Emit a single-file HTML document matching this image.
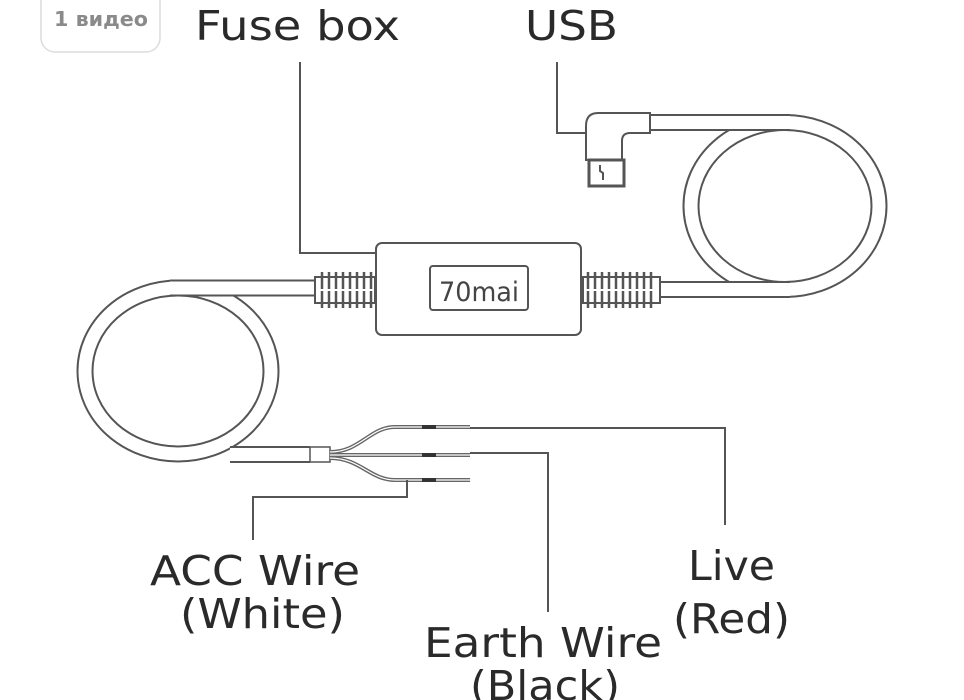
<!DOCTYPE html>
<html><head><meta charset="utf-8"><style>
html,body{margin:0;padding:0;background:#fff;}
svg{display:block}
text{font-family:"DejaVu Sans","Liberation Sans",sans-serif;fill:#2a2a2a}
</style></head><body>
<svg width="964" height="700" viewBox="0 0 964 700" xmlns="http://www.w3.org/2000/svg">
<rect x="41" y="-14" width="119" height="66" rx="14" fill="#fff" stroke="#dcdcdc" stroke-width="1.5"/>
<text x="54" y="26" font-size="20" font-weight="bold" style="fill:#8a8a8a" textLength="94" lengthAdjust="spacingAndGlyphs">1 видео</text>

<text x="195" y="40" font-size="41" textLength="205" lengthAdjust="spacingAndGlyphs">Fuse box</text>
<text x="525" y="40" font-size="41" textLength="93" lengthAdjust="spacingAndGlyphs">USB</text>

<g fill="none" stroke="#555" stroke-width="2">
<polyline points="300,62 300,253 376,253"/>
<polyline points="557,62 557,133 586,133"/>
</g>

<g fill="none">
<ellipse cx="178" cy="371" rx="93" ry="83" stroke="#555" stroke-width="17"/>
<ellipse cx="178" cy="371" rx="93" ry="83" stroke="#fff" stroke-width="13"/>
<path d="M170,288 H318" stroke="#555" stroke-width="17"/>
<path d="M170,288 H318" stroke="#fff" stroke-width="13"/>
<path d="M230,454.5 H310" stroke="#555" stroke-width="17"/>
<path d="M230,454.5 H310" stroke="#fff" stroke-width="13"/>
</g>
<g fill="none">
<ellipse cx="785" cy="206" rx="94" ry="83.5" stroke="#555" stroke-width="17"/>
<ellipse cx="785" cy="206" rx="94" ry="83.5" stroke="#fff" stroke-width="13"/>
<path d="M645,122.5 H790" stroke="#555" stroke-width="17"/>
<path d="M645,122.5 H790" stroke="#fff" stroke-width="13"/>
<path d="M655,289.5 H790" stroke="#555" stroke-width="17"/>
<path d="M655,289.5 H790" stroke="#fff" stroke-width="13"/>
</g>

<g stroke="#555" stroke-width="2" fill="#fff">
<rect x="315" y="277" width="60" height="26"/>
<rect x="583" y="277" width="77" height="26"/>
</g>
<g stroke="#555" stroke-width="2.5">
<path d="M322,272V308M329,272V308M336,272V308M343,272V308M350,272V308M357,272V308M364,272V308M371,272V308"/>
<path d="M588,272V308M595,272V308M602,272V308M609,272V308M616,272V308M623,272V308M630,272V308M637,272V308M644,272V308M651,272V308"/>
</g>
<g stroke="#fff" stroke-width="2"><path d="M316,290H374M584,290H659"/></g>

<rect x="376" y="243" width="205" height="92" rx="6" fill="#fff" stroke="#555" stroke-width="2"/>
<rect x="430" y="266" width="98" height="44" rx="3" fill="#fff" stroke="#555" stroke-width="2"/>
<text x="439" y="301" font-size="27" style="fill:#444" textLength="80" lengthAdjust="spacingAndGlyphs">70mai</text>

<path d="M586,160 V126 Q586,113 598,113 H650 V133 H630 Q622,133 622,141 V160 Z" fill="#fff" stroke="#555" stroke-width="2"/>
<rect x="589" y="160" width="35" height="26" fill="#fff" stroke="#555" stroke-width="3"/>
<path d="M600,165 v6 l3,2 v7" stroke="#555" stroke-width="2" fill="none"/>

<rect x="310" y="447" width="20" height="15" fill="#fff" stroke="#555" stroke-width="1.5"/>
<g fill="none" stroke="#666" stroke-width="4">
<path d="M330,452 C360,452 370,427 395,427 H470"/>
<path d="M330,455 H470"/>
<path d="M330,458 C360,458 370,480 395,480 H470"/>
</g>
<g fill="none" stroke="#fff" stroke-width="1.2">
<path d="M330,452 C360,452 370,427 395,427 H470"/>
<path d="M330,455 H470"/>
<path d="M330,458 C360,458 370,480 395,480 H470"/>
</g>
<g stroke="#333" stroke-width="4"><path d="M422,427H436M422,455H436M422,480H436"/></g>
<g fill="none" stroke="#555" stroke-width="2">
<polyline points="470,428 725,428 725,525"/>
<polyline points="470,453 548,453 548,612"/>
<polyline points="407,480 407,497 253,497 253,540"/>
</g>

<text x="150" y="585" font-size="41" textLength="210" lengthAdjust="spacingAndGlyphs">ACC Wire</text>
<text x="180" y="628" font-size="41" textLength="165" lengthAdjust="spacingAndGlyphs">(White)</text>
<text x="424" y="657" font-size="41" textLength="238" lengthAdjust="spacingAndGlyphs">Earth Wire</text>
<text x="470" y="700" font-size="41" textLength="150" lengthAdjust="spacingAndGlyphs">(Black)</text>
<text x="688" y="580" font-size="41" textLength="87" lengthAdjust="spacingAndGlyphs">Live</text>
<text x="673" y="633" font-size="41" textLength="117" lengthAdjust="spacingAndGlyphs">(Red)</text>
</svg>
</body></html>
